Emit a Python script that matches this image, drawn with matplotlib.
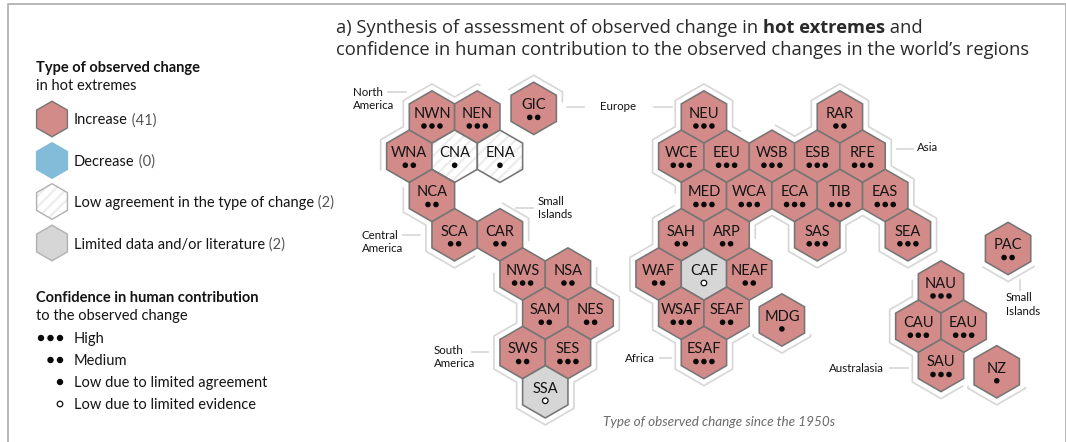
import numpy as np
import matplotlib
matplotlib.use("Agg")
import matplotlib.pyplot as plt
from matplotlib.patches import Polygon, Circle

# ---- data ----
regions = ["NWN","NEN","GIC","WNA","CNA","ENA","NCA","SCA","CAR","NWS","NSA","SAM","NES","SWS","SES","SSA",
           "NEU","RAR","WCE","EEU","WSB","ESB","RFE","MED","WCA","ECA","TIB","EAS","SAH","ARP","SAS","SEA",
           "WAF","CAF","NEAF","WSAF","SEAF","ESAF","MDG","NAU","CAU","EAU","SAU","NZ","PAC"]
change_type = ["inc","inc","inc","inc","low","low","inc","inc","inc","inc","inc","inc","inc","inc","inc","lim",
               "inc","inc","inc","inc","inc","inc","inc","inc","inc","inc","inc","inc","inc","inc","inc","inc",
               "inc","lim","inc","inc","inc","inc","inc","inc","inc","inc","inc","inc","inc"]
# 3 high, 2 medium, 1 low (limited agreement), 0 low (limited evidence)
confidence = [3,3,2,2,1,1,2,2,2,3,2,2,2,2,3,0,
              3,2,3,3,3,3,3,3,3,3,3,3,2,2,3,3,
              2,0,2,3,2,3,1,3,3,3,3,1,2]
grid_col = [1,3,5.49,0,2,4,1,2,4,5,7,6,8,5,7,6,
            13,19,12,14,16,18,20,13,15,17,19,21,12,14,18,22,
            11,13,15,12,14,13,16.44,23.46,22.46,24.46,23.46,25.92,26.42]
grid_row = [0,0,-0.22,1,1,1,2,3,3,4,4,5,5,6,6,7,
            0,0,1,1,1,1,1,2,2,2,2,2,3,3,3,3,
            4,4,4,5,5,6,5.17,4.33,5.33,5.33,6.33,6.49,3.35]

legend_types = [("inc","Increase"," (41)"),("dec","Decrease"," (0)"),
                ("low","Low agreement in the type of change"," (2)"),("lim","Limited data and/or literature"," (2)")]
legend_conf = [(3,"High"),(2,"Medium"),(1,"Low due to limited agreement"),(0,"Low due to limited evidence")]

# ---- style ----
FILL = {"inc":"#d28b88","dec":"#82bcd8","low":"#ffffff","lim":"#d6d6d6"}
EDGE = "#757575"
OUT = "#d6d6d6"
LATO = "Lato"
TXT = "#141414"
R = 26.17; W = R*np.sqrt(3)/2
plt.rcParams["hatch.linewidth"] = 1.6

fig = plt.figure(figsize=(10.66,4.42), dpi=100)
ax = fig.add_axes([0,0,1,1]); ax.set_xlim(0,1066); ax.set_ylim(442,0); ax.axis("off")

def center(c,r): return 409.3+c*W, 117+r*1.5*R
pos = {n:center(c,r) for n,c,r in zip(regions,grid_col,grid_row)}

def hex_pts(x,y,r=R):
    w = r*np.sqrt(3)/2
    return [(x,y-r),(x+w,y-r/2),(x+w,y+r/2),(x,y+r),(x-w,y+r/2),(x-w,y-r/2)]

def draw_hex(x,y,kind,r=R,lw=1.15,edge=EDGE):
    if kind=="low":
        ax.add_patch(Polygon(hex_pts(x,y,r),closed=True,facecolor="white",edgecolor="#ececec",hatch="///",lw=0,zorder=3))
        ax.add_patch(Polygon(hex_pts(x,y,r),closed=True,facecolor="none",edgecolor=edge,lw=lw,zorder=4))
    else:
        ax.add_patch(Polygon(hex_pts(x,y,r),closed=True,facecolor=FILL[kind],edgecolor=edge,lw=lw,zorder=3))

def dots(xc,y,n,d=5.6,sp=8.0):
    if n==0:
        ax.add_patch(Circle((xc,y),d/2,facecolor="white",edgecolor="#111111",lw=0.9,zorder=6)); return
    for i in range(n):
        ax.add_patch(Circle((xc+(i-(n-1)/2)*sp,y),d/2,facecolor="#0a0a0a",edgecolor="none",zorder=6))

def outline(names,d=6.0):
    edges={}
    for n in names:
        p=hex_pts(*pos[n])
        for i in range(6):
            a,b=p[i],p[(i+1)%6]
            ka,kb=(round(a[0],0),round(a[1],0)),(round(b[0],0),round(b[1],0))
            edges[(ka,kb)]=(a,b)
    bd={k:v for k,v in edges.items() if (k[1],k[0]) not in edges}
    nxt={k[0]:k for k in bd}
    start=next(iter(bd)); loop=[]; cur=start
    while True:
        loop.append(bd[cur]); cur=nxt[cur[1]]
        if cur==start: break
    n=len(loop); pts=[]
    for i in range(n):
        a0,b0=map(np.array,loop[i-1]); a1,b1=map(np.array,loop[i])
        t0=(b0-a0)/np.linalg.norm(b0-a0); t1=(b1-a1)/np.linalg.norm(b1-a1)
        n0=np.array([t0[1],-t0[0]]); n1=np.array([t1[1],-t1[0]])
        m=n0+n1; m=m/np.linalg.norm(m)
        pts.append(a1+m*d/np.dot(m,n0))
    pts.append(pts[0]); out=[]
    for a,b in zip(pts[:-1],pts[1:]):
        k=max(int(np.linalg.norm(b-a)),1)
        for t in np.arange(k)/k: out.append(a+(b-a)*t)
    return np.array(out)

def arc(loop,s,e):
    i=np.argmin(np.hypot(*(loop-np.array(s)).T)); j=np.argmin(np.hypot(*(loop-np.array(e)).T))
    idx=np.arange(i,(j if j>=i else j+len(loop))+1)%len(loop)
    p=loop[idx]
    ax.plot(p[:,0],p[:,1],color=OUT,lw=1.2,solid_capstyle="round",solid_joinstyle="round",zorder=2)

americas=["NWN","NEN","WNA","CNA","ENA","NCA","SCA","CAR","NWS","NSA","SAM","NES","SWS","SES","SSA"]
eurafro=["NEU","RAR","WCE","EEU","WSB","ESB","RFE","MED","WCA","ECA","TIB","EAS","SAH","ARP","SAS","SEA",
         "WAF","CAF","NEAF","WSAF","SEAF","ESAF"]
austr=["NAU","CAU","EAU","SAU"]
outline_groups=[
 (americas,[((380,170),(480,85)),((475,257),(403,188)),((502,205),(528,240)),((597,268),(493,273))]),
 (eurafro,[((674,193),(740,132)),((775,125),(757,238)),((749,334),(674,205))]),
 (["MDG"],[((812,334),(749,334))]),
 (["GIC"],[((507,88),(562,102))]),
 (["PAC"],[((1034,267),(983,267))]),
 (austr,[((963,386),(911,280))]),
 (["NZ"],[((1027,387),(963,386))]),
]
for names,arcs in outline_groups:
    lp=outline(names)
    for s,e in arcs: arc(lp,s,e)

for n,t,c in zip(regions,change_type,confidence):
    x,y=pos[n]
    draw_hex(x,y,t)
    ax.text(x,y-3.2,n,ha="center",va="center",family=LATO,fontsize=10.5,color=TXT,zorder=7)
    dots(x,y+9,c)

# leader lines
leaders=[((388,92),(406,92)),((567,107),(584,107)),((654,107),(672,107)),((897,149),(913,149)),
         ((516,208),(533,208)),((403,235),(420,235)),((472,352),(488,352)),((660,358),(671,358)),
         ((890,368),(908,368)),((1020,280),(1020,290))]
for a,b in leaders:
    ax.plot([a[0],b[0]],[a[1],b[1]],color=OUT,lw=1.2,zorder=2)

# group labels
for x,y,s in [(353,99,"North\nAmerica"),(600,106.5,"Europe"),(917,147.5,"Asia"),(538,208,"Small\nIslands"),
              (362,242,"Central\nAmerica"),(434,357,"South\nAmerica"),(625,358.5,"Africa"),(829,368.5,"Australasia"),
              (1006,304.5,"Small\nIslands")]:
    ax.text(x,y,s,ha="left",va="center",family=LATO,fontsize=8.3,color=TXT,linespacing=1.25,zorder=7)

# frame
ax.plot([8,8,1065.5,1065.5],[442,4,4,442],color="#b8b8b8",lw=1.4,zorder=1,clip_on=False)

# mixed title
def run(x,y,parts,**kw):
    r=fig.canvas.get_renderer()
    for s,w in parts:
        t=ax.text(x,y,s,ha="left",va="center_baseline",fontweight=w,**kw)
        x=ax.transData.inverted().transform(t.get_window_extent(r))[1,0]
    return x
TF=dict(family="Open Sans",fontsize=13.2,color="#2a2a2a")
run(336,26,[("a) Synthesis of assessment of observed change in ","normal"),("hot extremes","bold"),(" and","normal")],**TF)
ax.text(336,48,"confidence in human contribution to the observed changes in the world\u2019s regions",ha="left",va="center_baseline",**TF)

# legend: type
LF=dict(family=LATO,fontsize=10.5)
ax.text(36,68,"Type of observed change",fontweight="bold",color=TXT,va="center",**LF)
ax.text(36,86,"in hot extremes",color=TXT,va="center",**LF)
for (k,lab,cnt),y in zip(legend_types,[119,160.5,201.5,243]):
    draw_hex(52,y,k,r=17.8,lw=1.0,edge=EDGE if k=="inc" else ("#b0b0b0" if k!="dec" else "#82bcd8"))
    xe=run(74,y,[(lab,"normal")],color=TXT,**LF)
    ax.text(xe,y,cnt,color="#555555",ha="left",va="center_baseline",**LF)

# legend: confidence
ax.text(36,298,"Confidence in human contribution",fontweight="bold",color=TXT,va="center",**LF)
ax.text(36,316,"to the observed change",color=TXT,va="center",**LF)
for (n,lab),y in zip(legend_conf,[338,360,382,404]):
    for i in range(max(n,1)):
        cx=60-i*9.5
        if n==0: ax.add_patch(Circle((cx,y),2.8,facecolor="white",edgecolor="#111111",lw=0.9,zorder=6))
        else: ax.add_patch(Circle((cx,y),3.2,facecolor="#0a0a0a",edgecolor="none",zorder=6))
    ax.text(74,y+1.2,lab,color=TXT,va="center",**LF)

ax.text(603,421.5,"Type of observed change since the 1950s",family=LATO,style="italic",fontsize=9.7,color="#6a6a6a",va="center")

fig.savefig("out.png",dpi=100)
